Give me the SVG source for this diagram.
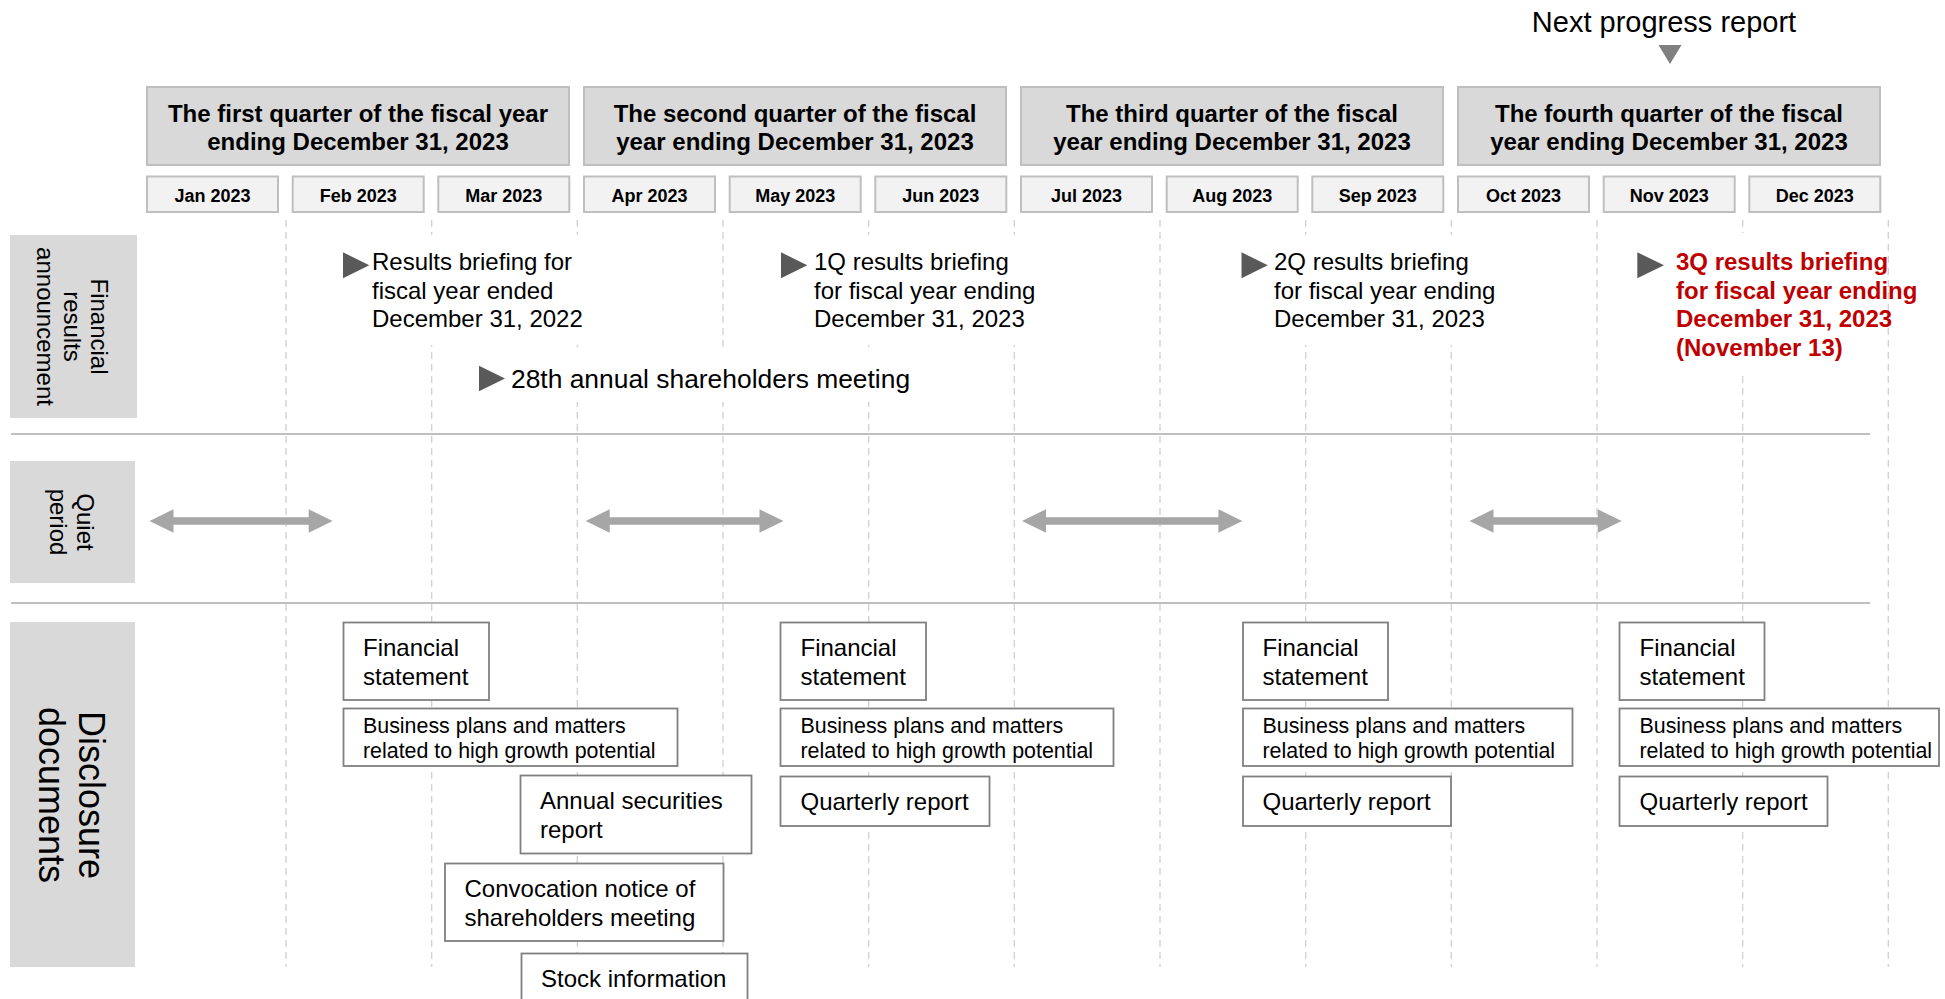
<svg xmlns="http://www.w3.org/2000/svg" width="1945" height="999" viewBox="0 0 1945 999">
<style>
text{font-family:"Liberation Sans",Arial,Helvetica,sans-serif;fill:#000}
.q{fill:#d9d9d9;stroke:#bfbfbf;stroke-width:2}
.qt{font-size:24px;font-weight:bold;text-anchor:middle}
.m{fill:#f2f2f2;stroke:#bfbfbf;stroke-width:2}
.mt{font-size:18px;font-weight:bold;text-anchor:middle}
.grid{stroke:#d0d0d0;stroke-width:1.3;stroke-dasharray:7 5;fill:none}
.sep{stroke:#bfbfbf;stroke-width:2.2;fill:none}
.lab{fill:#d9d9d9}
.lt{font-size:24px;text-anchor:middle}
.mask{fill:#fff}
.tri{fill:#595959}
.ev{font-size:24px}
.red{font-size:24px;font-weight:bold;fill:#c00000}
.arr{fill:#a6a6a6}
.doc{fill:#fff;stroke:#808080;stroke-width:1.8}
.dt{font-size:24px}
.ds{font-size:21.4px}
</style>

<g id="grid">
<line class="grid" x1="286" y1="220" x2="286" y2="967"/>
<line class="grid" x1="431.7" y1="220" x2="431.7" y2="967"/>
<line class="grid" x1="577.3" y1="220" x2="577.3" y2="967"/>
<line class="grid" x1="723" y1="220" x2="723" y2="967"/>
<line class="grid" x1="868.7" y1="220" x2="868.7" y2="967"/>
<line class="grid" x1="1014.3" y1="220" x2="1014.3" y2="967"/>
<line class="grid" x1="1160" y1="220" x2="1160" y2="967"/>
<line class="grid" x1="1305.7" y1="220" x2="1305.7" y2="967"/>
<line class="grid" x1="1451.3" y1="220" x2="1451.3" y2="967"/>
<line class="grid" x1="1597" y1="220" x2="1597" y2="967"/>
<line class="grid" x1="1742.7" y1="220" x2="1742.7" y2="967"/>
<line class="grid" x1="1888.3" y1="220" x2="1888.3" y2="967"/>
</g>

<g id="separators">
<line class="sep" x1="11" y1="434" x2="1870" y2="434"/>
<line class="sep" x1="11" y1="603" x2="1870" y2="603"/>
</g>

<g id="next-progress">
<text x="1664" y="32" style="font-size:29px;text-anchor:middle">Next progress report</text>
<polygon points="1658.5,45 1681.5,45 1670,64" fill="#808080"/>
</g>

<g id="quarters">
<g id="q1"><rect class="q" x="147" y="87" width="422" height="78"/>
<text class="qt" x="358" y="122">The first quarter of the fiscal year</text>
<text class="qt" x="358" y="150">ending December 31, 2023</text></g>
<g id="q2"><rect class="q" x="584" y="87" width="422" height="78"/>
<text class="qt" x="795" y="122">The second quarter of the fiscal</text>
<text class="qt" x="795" y="150">year ending December 31, 2023</text></g>
<g id="q3"><rect class="q" x="1021" y="87" width="422" height="78"/>
<text class="qt" x="1232" y="122">The third quarter of the fiscal</text>
<text class="qt" x="1232" y="150">year ending December 31, 2023</text></g>
<g id="q4"><rect class="q" x="1458" y="87" width="422" height="78"/>
<text class="qt" x="1669" y="122">The fourth quarter of the fiscal</text>
<text class="qt" x="1669" y="150">year ending December 31, 2023</text></g>
</g>

<g id="months">
<g id="m01"><rect class="m" x="147" y="176.5" width="131" height="35.5"/><text class="mt" x="212.5" y="202">Jan 2023</text></g>
<g id="m02"><rect class="m" x="292.7" y="176.5" width="131" height="35.5"/><text class="mt" x="358.2" y="202">Feb 2023</text></g>
<g id="m03"><rect class="m" x="438.3" y="176.5" width="131" height="35.5"/><text class="mt" x="503.8" y="202">Mar 2023</text></g>
<g id="m04"><rect class="m" x="584" y="176.5" width="131" height="35.5"/><text class="mt" x="649.5" y="202">Apr 2023</text></g>
<g id="m05"><rect class="m" x="729.7" y="176.5" width="131" height="35.5"/><text class="mt" x="795.2" y="202">May 2023</text></g>
<g id="m06"><rect class="m" x="875.3" y="176.5" width="131" height="35.5"/><text class="mt" x="940.8" y="202">Jun 2023</text></g>
<g id="m07"><rect class="m" x="1021" y="176.5" width="131" height="35.5"/><text class="mt" x="1086.5" y="202">Jul 2023</text></g>
<g id="m08"><rect class="m" x="1166.7" y="176.5" width="131" height="35.5"/><text class="mt" x="1232.2" y="202">Aug 2023</text></g>
<g id="m09"><rect class="m" x="1312.3" y="176.5" width="131" height="35.5"/><text class="mt" x="1377.8" y="202">Sep 2023</text></g>
<g id="m10"><rect class="m" x="1458" y="176.5" width="131" height="35.5"/><text class="mt" x="1523.5" y="202">Oct 2023</text></g>
<g id="m11"><rect class="m" x="1603.7" y="176.5" width="131" height="35.5"/><text class="mt" x="1669.2" y="202">Nov 2023</text></g>
<g id="m12"><rect class="m" x="1749.3" y="176.5" width="131" height="35.5"/><text class="mt" x="1814.8" y="202">Dec 2023</text></g>
</g>

<g id="row-labels">
<g id="label-financial"><rect class="lab" x="10" y="235" width="127" height="183"/>
<g transform="translate(0,326.5) rotate(90)">
<text class="lt" x="0" y="-90.5">Financial</text>
<text class="lt" x="0" y="-63.5">results</text>
<text class="lt" x="0" y="-36.5">announcement</text>
</g></g>
<g id="label-quiet"><rect class="lab" x="10" y="461" width="125" height="122"/>
<g transform="translate(0,522) rotate(90)">
<text class="lt" x="0" y="-76.5">Quiet</text>
<text class="lt" x="0" y="-50">period</text>
</g></g>
<g id="label-disclosure"><rect class="lab" x="10" y="622" width="125" height="345"/>
<g transform="translate(0,795) rotate(90)">
<text class="lt" style="font-size:36px" x="0" y="-79">Disclosure</text>
<text class="lt" style="font-size:36px" x="0" y="-38.5">documents</text>
</g></g>
</g>

<g id="events">
<g id="ev-fy2022"><rect class="mask" x="338" y="235" width="254" height="110"/>
<polygon class="tri" points="343,252.3 369.3,265.3 343,278.3"/>
<text class="ev" x="372" y="270">Results briefing for</text>
<text class="ev" x="372" y="298.5">fiscal year ended</text>
<text class="ev" x="372" y="327">December 31, 2022</text></g>
<g id="ev-agm"><rect class="mask" x="474" y="352" width="442" height="50"/>
<polygon class="tri" points="479,365.7 505,378.5 479,391.3"/>
<text class="ev" style="font-size:26.4px" x="511" y="388">28th annual shareholders meeting</text></g>
<g id="ev-1q"><rect class="mask" x="776" y="235" width="264" height="110"/>
<polygon class="tri" points="781,252.3 807.3,265.3 781,278.3"/>
<text class="ev" x="814" y="270">1Q results briefing</text>
<text class="ev" x="814" y="298.5">for fiscal year ending</text>
<text class="ev" x="814" y="327">December 31, 2023</text></g>
<g id="ev-2q"><rect class="mask" x="1236" y="235" width="266" height="110"/>
<polygon class="tri" points="1241.5,252.3 1267.8,265.3 1241.5,278.3"/>
<text class="ev" x="1274" y="270">2Q results briefing</text>
<text class="ev" x="1274" y="298.5">for fiscal year ending</text>
<text class="ev" x="1274" y="327">December 31, 2023</text></g>
<g id="ev-3q"><rect class="mask" x="1632" y="233" width="250" height="140"/>
<polygon class="tri" points="1637.3,252.3 1664,265.3 1637.3,278.3"/>
<text class="red" x="1676" y="270.3">3Q results briefing</text>
<text class="red" x="1676" y="298.8">for fiscal year ending</text>
<text class="red" x="1676" y="327.3">December 31, 2023</text>
<text class="red" x="1676" y="355.8">(November 13)</text></g>
</g>

<g id="connectors">
<path class="arr" d="M149.5,521 L173.5,509.3 L173.5,517.2 L308.7,517.2 L308.7,509.3 L332.7,521 L308.7,532.7 L308.7,524.8 L173.5,524.8 L173.5,532.7 Z"/>
<path class="arr" d="M585.7,521 L609.7,509.3 L609.7,517.2 L759.5,517.2 L759.5,509.3 L783.5,521 L759.5,532.7 L759.5,524.8 L609.7,524.8 L609.7,532.7 Z"/>
<path class="arr" d="M1022,521 L1046,509.3 L1046,517.2 L1218.4,517.2 L1218.4,509.3 L1242.4,521 L1218.4,532.7 L1218.4,524.8 L1046,524.8 L1046,532.7 Z"/>
<path class="arr" d="M1469.5,521 L1493.5,509.3 L1493.5,517.2 L1597.7,517.2 L1597.7,509.3 L1621.7,521 L1597.7,532.7 L1597.7,524.8 L1493.5,524.8 L1493.5,532.7 Z"/>
</g>

<g id="documents">
<g id="fs1"><rect class="doc" x="343.5" y="622.5" width="145.5" height="77.5"/><text class="dt" x="363" y="656">Financial</text><text class="dt" x="363" y="685">statement</text></g>
<g id="bp1"><rect class="doc" x="343.5" y="708.5" width="334" height="57.5"/><text class="ds" x="363" y="733">Business plans and matters</text><text class="ds" x="363" y="757.5">related to high growth potential</text></g>
<g id="asr"><rect class="doc" x="520.5" y="775.5" width="231" height="78"/><text class="dt" x="540" y="809">Annual securities</text><text class="dt" x="540" y="838">report</text></g>
<g id="conv"><rect class="doc" x="445" y="863.5" width="278.5" height="77.5"/><text class="dt" x="464.5" y="897">Convocation notice of</text><text class="dt" x="464.5" y="926">shareholders meeting</text></g>
<g id="stock"><rect class="doc" x="521.5" y="953.5" width="226" height="60"/><text class="dt" x="541" y="987">Stock information</text></g>

<g id="fs2"><rect class="doc" x="780.5" y="622.5" width="145.5" height="77.5"/><text class="dt" x="800.5" y="656">Financial</text><text class="dt" x="800.5" y="685">statement</text></g>
<g id="bp2"><rect class="doc" x="780.5" y="708.5" width="333" height="57.5"/><text class="ds" x="800.5" y="733">Business plans and matters</text><text class="ds" x="800.5" y="757.5">related to high growth potential</text></g>
<g id="qr2"><rect class="doc" x="780.5" y="776.5" width="209" height="49.5"/><text class="dt" x="800.5" y="810">Quarterly report</text></g>

<g id="fs3"><rect class="doc" x="1243" y="622.5" width="145" height="77.5"/><text class="dt" x="1262.5" y="656">Financial</text><text class="dt" x="1262.5" y="685">statement</text></g>
<g id="bp3"><rect class="doc" x="1243" y="708.5" width="329.5" height="57.5"/><text class="ds" x="1262.5" y="733">Business plans and matters</text><text class="ds" x="1262.5" y="757.5">related to high growth potential</text></g>
<g id="qr3"><rect class="doc" x="1243" y="776.5" width="208" height="49.5"/><text class="dt" x="1262.5" y="810">Quarterly report</text></g>

<g id="fs4"><rect class="doc" x="1619.5" y="622.5" width="145" height="77.5"/><text class="dt" x="1639.5" y="656">Financial</text><text class="dt" x="1639.5" y="685">statement</text></g>
<g id="bp4"><rect class="doc" x="1619.5" y="708.5" width="319.5" height="57.5"/><text class="ds" x="1639.5" y="733">Business plans and matters</text><text class="ds" x="1639.5" y="757.5">related to high growth potential</text></g>
<g id="qr4"><rect class="doc" x="1619.5" y="776.5" width="208" height="49.5"/><text class="dt" x="1639.5" y="810">Quarterly report</text></g>
</g>
</svg>
